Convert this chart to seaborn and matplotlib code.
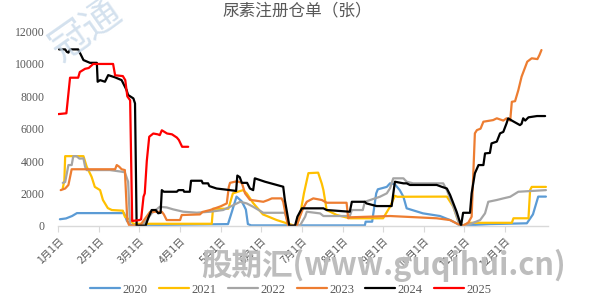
import numpy as np
import pandas as pd
import matplotlib
matplotlib.use("Agg")
import matplotlib.pyplot as plt
import seaborn as sns

# x = position in the year, in months since 1 Jan (0 = 1月1日, 1 = 2月1日, ...)
x2020 = [0.04, 0.19, 0.34, 0.46, 1.62, 1.69, 1.80, 4.18, 4.28, 4.39, 4.52, 4.62, 4.67, 4.75,
         7.55, 7.57, 7.73, 7.83, 7.87, 8.09, 8.17, 8.29, 8.41, 8.50, 8.58, 8.98, 9.40, 9.65,
         9.81, 9.89, 10.63, 11.54, 11.69, 11.82, 12.01]
y2020 = [400, 450, 600, 780, 780, 300, 30, 100, 900, 1800, 1500, 1000, 100, 20,
         20, 250, 250, 2000, 2250, 2400, 2620, 2560, 2200, 1790, 1075, 765, 600, 350,
         150, 0, 100, 150, 700, 1800, 1800]

x2021 = [0.11, 0.15, 0.17, 0.62, 0.70, 0.82, 0.90, 1.03, 1.10, 1.22, 1.32, 1.59, 1.64, 1.77,
         1.85, 3.78, 3.81, 4.19, 4.30, 4.55, 4.64, 4.80, 5.04, 5.38, 5.63, 5.80, 5.87, 5.95,
         6.05, 6.16, 6.40, 6.49, 6.53, 6.61, 6.86, 7.18, 8.00, 8.17, 8.29, 8.35, 9.57, 9.73,
         9.84, 9.94, 10.14, 11.17, 11.21, 11.58, 11.62, 11.66, 12.01]
y2021 = [2300, 2800, 4300, 4300, 3650, 3030, 2400, 2200, 1590, 1090, 970, 930, 560, 350,
         120, 120, 1050, 1050, 2000, 2200, 2000, 1400, 700, 350, 150, 20, 0, 600,
         2000, 3250, 3280, 2600, 2200, 970, 660, 460, 460, 1170, 1850, 1790, 1800, 1170,
         350, 0, 180, 180, 460, 460, 2200, 2400, 2400]

x2022 = [0.11, 0.17, 0.25, 0.33, 0.37, 0.45, 0.52, 0.62, 0.66, 0.70, 1.27, 1.56, 1.64, 1.72,
         1.77, 2.09, 2.11, 2.30, 2.50, 2.67, 2.83, 3.08, 3.41, 3.74, 4.06, 4.23, 4.48, 4.64,
         4.80, 5.05, 5.58, 5.68, 5.95, 6.08, 6.12, 6.45, 6.53, 7.18, 7.23, 7.50, 7.55, 7.92,
         8.09, 8.17, 8.25, 8.50, 8.58, 8.74, 9.48, 9.57, 9.73, 9.89, 10.14, 10.39, 10.51, 10.59,
         10.80, 10.96, 11.13, 11.33, 12.01]
y2022 = [2650, 2700, 3750, 3750, 4300, 4300, 4150, 4160, 3650, 3440, 3440, 3340, 3300, 2720,
         0, 0, 150, 765, 1170, 1130, 1010, 865, 805, 865, 970, 1170, 1480, 1380,
         1170, 800, 800, 0, 0, 560, 865, 760, 600, 600, 970, 970, 1480, 1790,
         2000, 2310, 2930, 2930, 2720, 2620, 2620, 2200, 1170, 0, 100, 350, 765, 1480,
         1590, 1690, 1790, 2100, 2200]

x2023 = [0.06, 0.17, 0.25, 0.33, 1.40, 1.44, 1.50, 1.56, 1.64, 1.70, 1.75, 2.01, 2.26, 2.55,
         2.60, 2.67, 3.00, 3.04, 3.49, 3.55, 3.74, 4.00, 4.15, 4.20, 4.23, 4.40, 4.52, 4.60,
         4.72, 5.05, 5.17, 5.26, 5.50, 5.54, 5.61, 5.66, 5.87, 5.95, 6.03, 6.12, 6.28, 6.49,
         6.61, 7.10, 7.14, 7.18, 8.17, 9.32, 9.65, 9.84, 9.97, 10.10, 10.18, 10.26, 10.31, 10.40,
         10.47, 10.71, 10.80, 10.96, 11.04, 11.13, 11.17, 11.25, 11.33, 11.41, 11.55, 11.66,
         11.80, 11.85, 11.90]
y2023 = [2200, 2300, 2520, 3490, 3490, 3750, 3650, 3490, 3440, 300, 0, 0, 860, 860,
         700, 350, 350, 660, 700, 850, 970, 1200, 1380, 2400, 2650, 2750, 2650, 2000,
         1600, 1480, 1590, 1690, 1690, 1480, 560, 0, 0, 560, 1075, 1480, 1690, 1590,
         1420, 1420, 460, 520, 600, 460, 350, 100, 0, 200, 560, 5710, 5910, 6000,
         6430, 6530, 6640, 6500, 6640, 6500, 7660, 7700, 8380, 9210, 10140, 10350,
         10300, 10550, 10860]

x2024 = [0.02, 0.17, 0.21, 0.25, 0.29, 0.49, 0.58, 0.62, 0.78, 0.95, 0.97, 1.03, 1.15, 1.23,
         1.40, 1.56, 1.62, 1.68, 1.72, 1.85, 1.89, 1.93, 2.15, 2.22, 2.30, 2.40, 2.46, 2.52,
         2.55, 2.60, 2.92, 2.96, 3.08, 3.10, 3.24, 3.27, 3.53, 3.56, 3.69, 3.72, 3.90, 4.23,
         4.38, 4.41, 4.47, 4.52, 4.65, 4.72, 4.80, 4.84, 5.09, 5.38, 5.54, 5.58, 5.63, 5.69,
         5.83, 5.89, 6.00, 6.53, 6.61, 7.18, 7.23, 7.55, 7.59, 7.84, 8.21, 8.29, 8.50, 8.58,
         8.66, 9.32, 9.44, 9.57, 9.65, 9.81, 9.92, 9.97, 10.14, 10.18, 10.26, 10.35, 10.47,
         10.51, 10.63, 10.67, 10.80, 10.88, 10.96, 11.04, 11.08, 11.17, 11.37, 11.41, 11.45,
         11.50, 11.58, 11.79, 11.99]
y2024 = [10900, 10900, 10750, 10700, 10900, 10900, 10450, 10240, 10070, 10070, 8900, 9000, 8900, 9310,
         9170, 9000, 8700, 8400, 8080, 7870, 7560, 0, 0, 500, 970, 970, 770, 800,
         2200, 2100, 2100, 2200, 2200, 2100, 2100, 2780, 2780, 2620, 2620, 2450, 2300, 2200,
         2150, 3100, 3000, 2650, 2650, 2300, 2200, 2930, 2720, 2520, 2410, 1590, 865, 0,
         0, 560, 1075, 1075, 970, 865, 1480, 1480, 1380, 1215, 1215, 2720, 2620, 2620,
         2520, 2520, 2410, 2300, 1900, 865, 0, 800, 800, 2000, 3240, 3750, 3750,
         4470, 4500, 5090, 5200, 5710, 5800, 6330, 6640, 6500, 6220, 6300, 6640,
         6500, 6700, 6780, 6780]

x2025 = [0.00, 0.20, 0.29, 0.49, 0.53, 0.66, 0.75, 0.86, 1.35, 1.40, 1.59, 1.65, 1.70, 1.77,
         1.82, 1.84, 2.00, 2.04, 2.10, 2.13, 2.18, 2.24, 2.34, 2.45, 2.50, 2.55, 2.68, 2.80,
         2.92, 2.97, 3.05, 3.20]
y2025 = [6900, 6950, 9150, 9150, 9500, 9700, 9750, 10000, 10000, 9300, 9250, 9000, 8000, 7750,
         300, 300, 350, 400, 1800, 2000, 4000, 5500, 5700, 5650, 5600, 5900, 5700, 5650,
         5450, 5300, 4880, 4880]

years = ["2020", "2021", "2022", "2023", "2024", "2025"]
xs = [x2020, x2021, x2022, x2023, x2024, x2025]
ys = [y2020, y2021, y2022, y2023, y2024, y2025]
colors = ["#5B9BD5", "#FFC000", "#A5A5A5", "#ED7D31", "#000000", "#FF0000"]

month_labels = [f"{i}月1日" for i in range(1, 13)]
y_ticks = [0, 2000, 4000, 6000, 8000, 10000, 12000]

rows = []
for yr, xv, yv in zip(years, xs, ys):
    for i, (a, b) in enumerate(zip(xv, yv)):
        rows.append({"year": yr, "order": i, "x": a, "value": b})
df = pd.DataFrame(rows)

sns.set_theme(style="white")
plt.rcParams["font.family"] = ["Noto Sans CJK SC", "DejaVu Sans"]

fig = plt.figure(figsize=(5.94, 2.97), dpi=100)
ax = fig.add_axes([0.0981, 0.240, 0.8244, 0.6536])

sns.lineplot(data=df, x="x", y="value", hue="year", palette=dict(zip(years, colors)),
             hue_order=years, estimator=None, sort=False, linewidth=1.6, ax=ax, legend=True)

ax.set_xlim(0, 12.06)
ax.set_ylim(0, 12000)
ax.set_xticks(range(12))
ax.set_xticklabels(month_labels, rotation=45, ha="right", rotation_mode="anchor",
                   fontsize=7.5, color="#595959")
ax.set_yticks(y_ticks)
ax.set_yticklabels([str(v) for v in y_ticks], fontsize=8.5, color="#595959",
                   family=["Liberation Serif"])
ax.set_xlabel("")
ax.set_ylabel("")
for s in ["top", "right", "left"]:
    ax.spines[s].set_visible(False)
ax.spines["bottom"].set_color("#D9D9D9")
ax.spines["bottom"].set_linewidth(1.0)
ax.tick_params(axis="x", which="both", bottom=True, length=4, width=0.8, color="#D9D9D9", pad=3)
ax.tick_params(axis="y", left=False, pad=4)

fig.text(0.5, 0.962, "尿素注册仓单（张）", fontsize=12, color="#595959",
         ha="center", va="center")

handles, labels = ax.get_legend_handles_labels()
ax.get_legend().remove()
fig.legend(handles, labels, loc="center", bbox_to_anchor=(0.49, 0.025),
           ncol=6, frameon=False, handlelength=2.4, handletextpad=0.2,
           columnspacing=0.9, labelcolor="#595959", borderaxespad=0, borderpad=0,
           prop={"family": "Liberation Serif", "size": 9})

# watermarks
fig.text(0.145, 0.90, "冠通", fontsize=28, color="#C9DAEA", rotation=35, alpha=0.8,
         ha="center", va="center", zorder=0)
fig.text(0.645, 0.105, "股期汇(www.guqihui.cn)", fontsize=22, color="#BDBDBD",
         fontweight="bold", style="italic", ha="center", va="center", zorder=10,
         family=["Noto Sans CJK SC", "DejaVu Sans"])

fig.savefig("out.png", dpi=100)
